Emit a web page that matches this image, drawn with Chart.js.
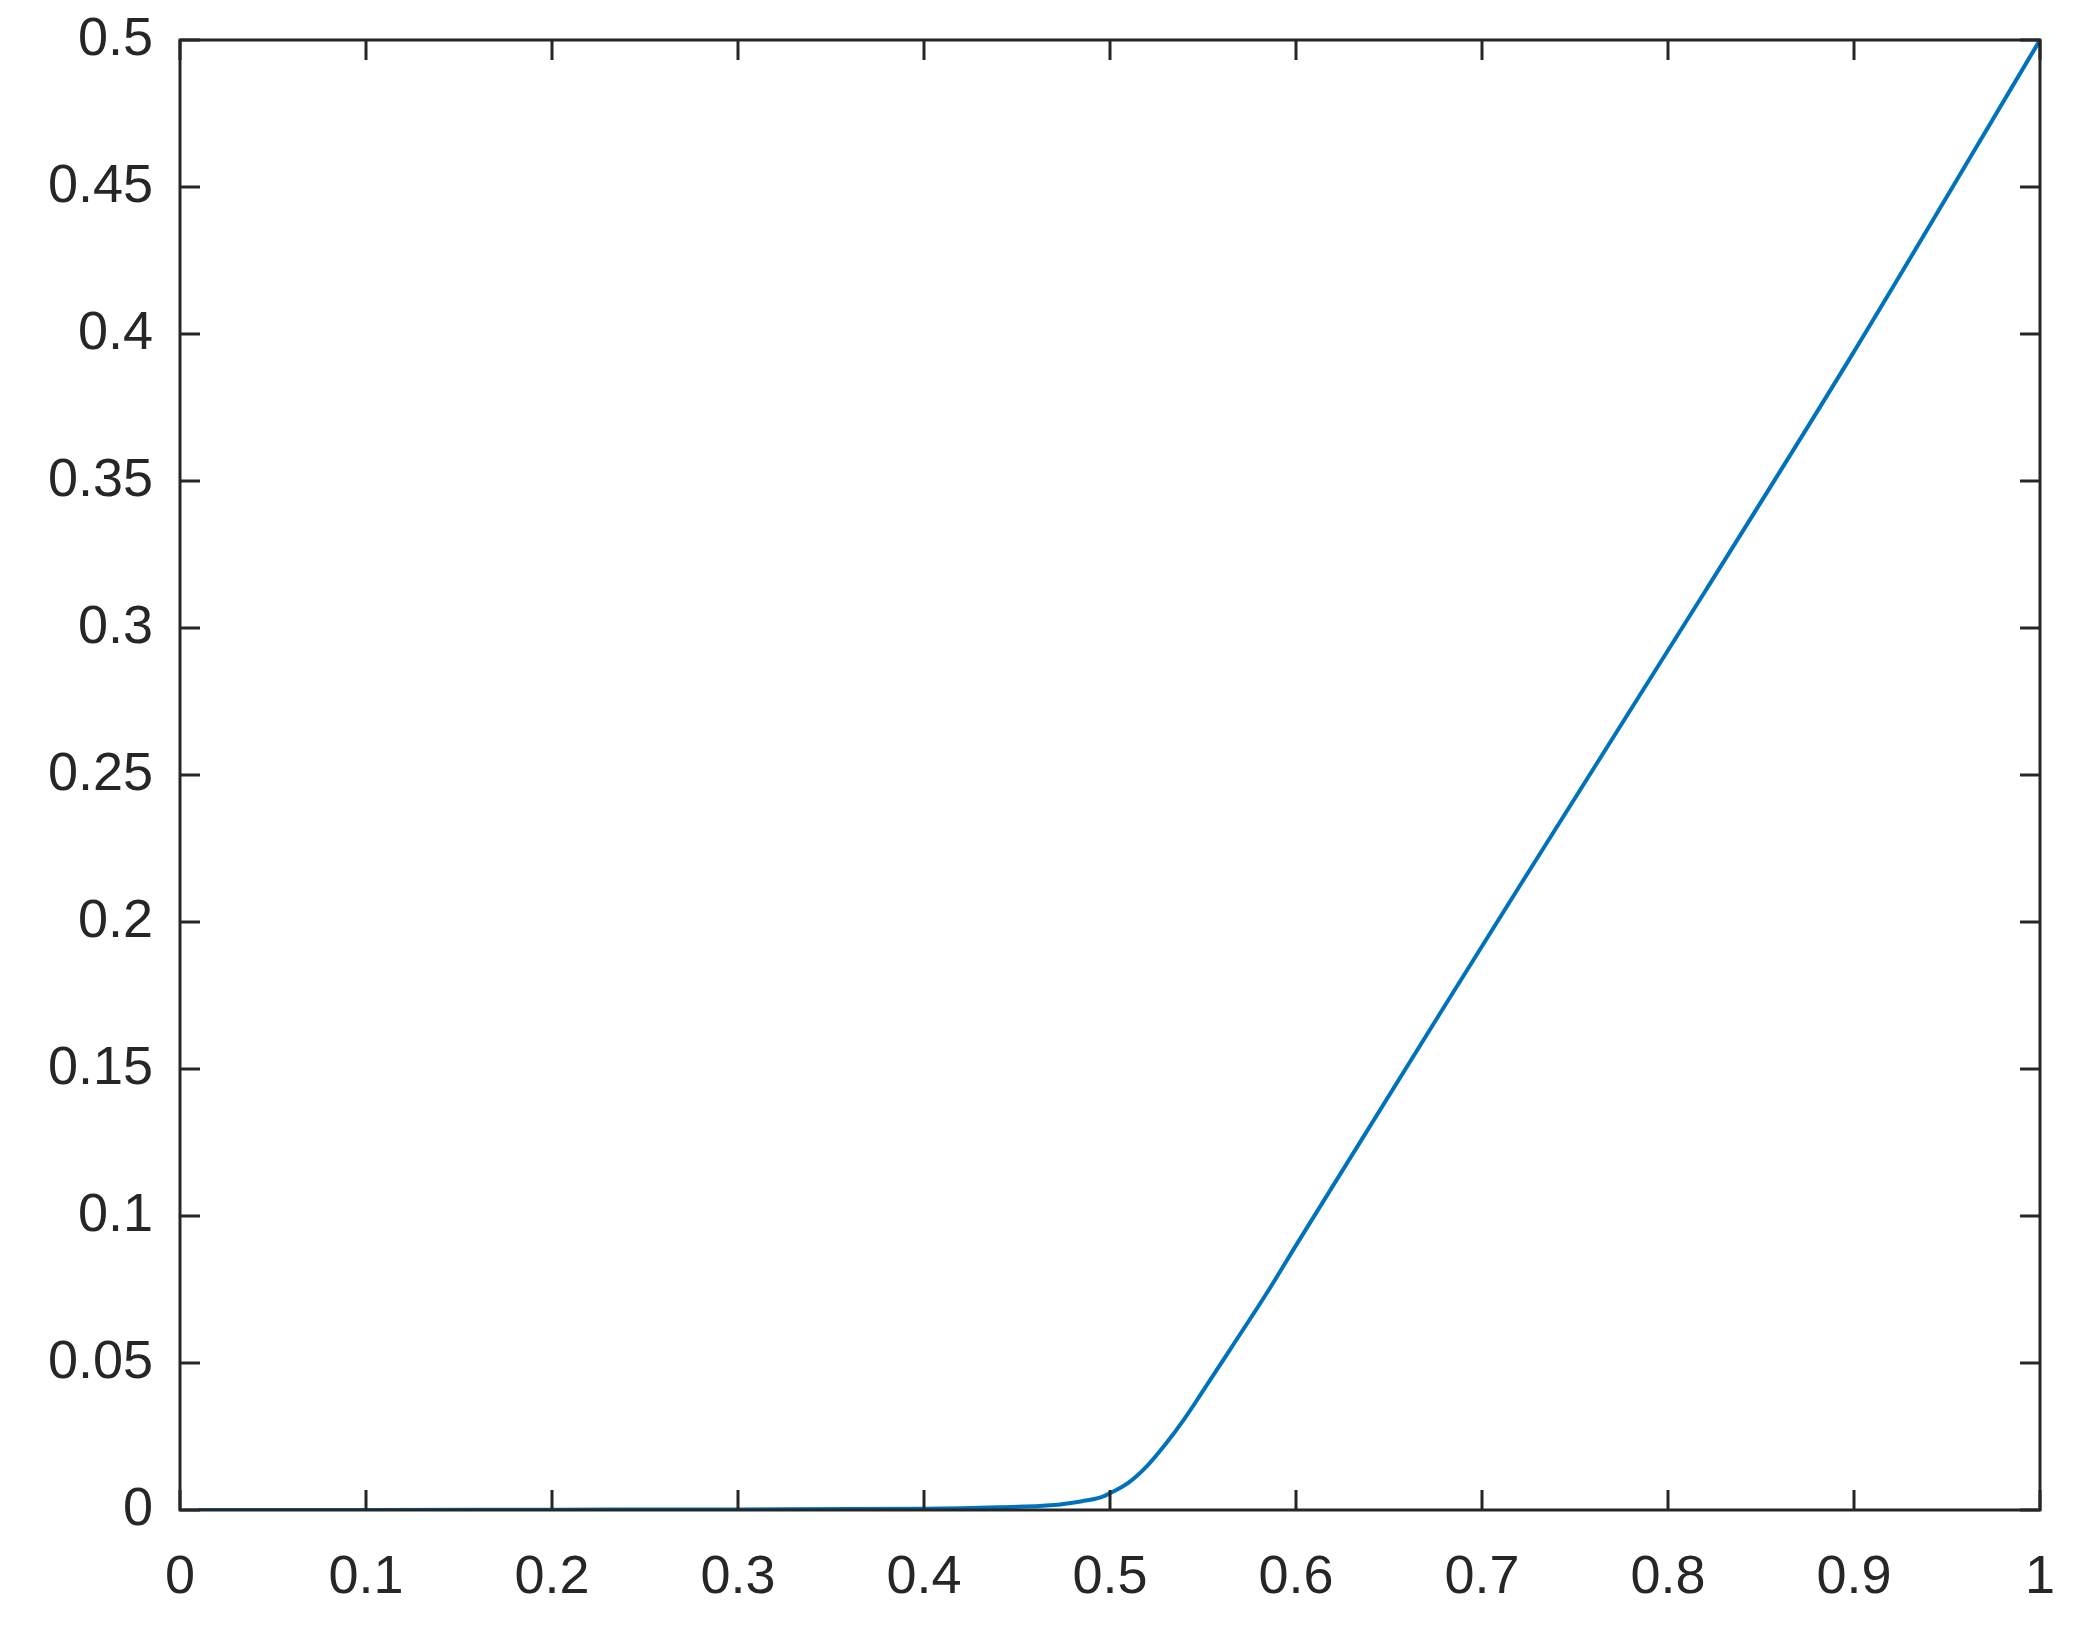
<!DOCTYPE html>
<html>
<head>
<meta charset="utf-8">
<script src="https://cdn.jsdelivr.net/npm/chart.js@4.4.1/dist/chart.umd.min.js"></script>
<style>
    html, body { margin: 0; padding: 0; background: #ffffff; }
    #wrap { width: 2079px; height: 1634px; }
</style>
</head>
<body>
<div id="wrap"><canvas id="curveCanvas" width="2079" height="1634"></canvas></div>
<script>
// values
let xValues = [0.01, 0.1, 0.2, 0.3, 0.4, 0.44, 0.47, 0.485, 0.495, 0.5, 0.51, 0.52, 0.53, 0.54, 0.55, 0.565, 0.585, 0.6, 0.68, 0.72, 0.82, 0.9, 1.0];
let yValues = [0, 0, 0.0001, 0.0002, 0.0004, 0.0009, 0.0017, 0.003, 0.0043, 0.0057, 0.0093, 0.015, 0.0225, 0.031, 0.0405, 0.055, 0.0745, 0.09, 0.1715, 0.212, 0.3125, 0.394, 0.5];
let xTickStep = 0.1;
let yTickStep = 0.05;

const axisColor = "#262626";
const lineColor = "#0072BD";

function formatTick(value) {
    return String(Number(value.toFixed(2)));
}

let points = [];
for (let i in xValues) {
    points.push({ x: xValues[i], y: yValues[i] });
}

// box around the plot with inward ticks on all four sides
const boxPlugin = {
    id: 'boxPlugin',
    afterDatasetsDraw(chart) {
        let ctx = chart.ctx;
        let area = chart.chartArea;
        let xs = chart.scales.x;
        let ys = chart.scales.y;
        let tick = 20;
        ctx.save();
        ctx.strokeStyle = axisColor;
        ctx.lineWidth = 3;
        ctx.beginPath();
        for (let t of xs.ticks) {
            let px = Math.round(xs.getPixelForValue(t.value));
            ctx.moveTo(px, area.bottom);
            ctx.lineTo(px, area.bottom - tick);
            ctx.moveTo(px, area.top);
            ctx.lineTo(px, area.top + tick);
        }
        for (let t of ys.ticks) {
            let py = Math.round(ys.getPixelForValue(t.value));
            ctx.moveTo(area.left, py);
            ctx.lineTo(area.left + tick, py);
            ctx.moveTo(area.right, py);
            ctx.lineTo(area.right - tick, py);
        }
        ctx.stroke();
        ctx.strokeRect(area.left, area.top, area.right - area.left, area.bottom - area.top);
        ctx.restore();
    }
};

// stop the tick labels from pushing the plot area inwards
function fixXAxis(scale) {
    scale.height = 124;
    scale.paddingLeft = 0;
    scale.paddingRight = 0;
}
function fixYAxis(scale) {
    scale.width = 180;
    scale.paddingTop = 0;
    scale.paddingBottom = 0;
}

let ctx = document.getElementById('curveCanvas').getContext('2d');
let curveChart = new Chart(ctx, {
    type: 'scatter',
    data: {
        datasets: [{
            data: points,
            showLine: true,
            borderColor: lineColor,
            borderWidth: 4,
            pointRadius: 0,
            cubicInterpolationMode: 'monotone',
            fill: false
        }]
    },
    plugins: [boxPlugin],
    options: {
        responsive: false,
        animation: false,
        layout: {
            autoPadding: false,
            padding: { top: 40, right: 39, left: 0, bottom: 0 }
        },
        plugins: {
            legend: { display: false },
            tooltip: { enabled: false }
        },
        scales: {
            x: {
                type: 'linear',
                min: 0,
                max: 1,
                grid: { display: false, drawTicks: false },
                border: { display: false },
                afterFit: fixXAxis,
                ticks: {
                    stepSize: xTickStep,
                    padding: 36,
                    color: axisColor,
                    font: { family: "'Liberation Sans', Arial, sans-serif", size: 54 },
                    callback: function (v) { return formatTick(v); }
                }
            },
            y: {
                type: 'linear',
                min: 0,
                max: 0.5,
                grid: { display: false, drawTicks: false },
                border: { display: false },
                afterFit: fixYAxis,
                ticks: {
                    stepSize: yTickStep,
                    padding: 27,
                    color: axisColor,
                    font: { family: "'Liberation Sans', Arial, sans-serif", size: 54 },
                    callback: function (v) { return formatTick(v); }
                }
            }
        }
    }
});
</script>
</body>
</html>
